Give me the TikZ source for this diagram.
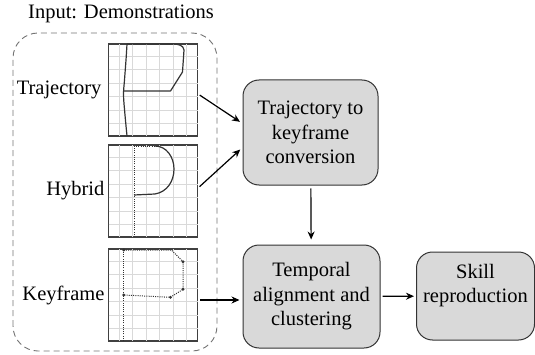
\documentclass[tikz,border=0pt]{standalone}
\usepackage{fontspec}
\setmainfont{Liberation Serif}
\usetikzlibrary{positioning,arrows.meta}

\tikzset{
  stage/.style={draw=black!80, fill=black!15, line width=1pt, rounded corners=16pt, align=center, inner sep=2pt},
  demo/.style={draw=black!75, line width=1.1pt, minimum width=89pt, minimum height=92pt, inner sep=0pt},
  arr/.style={-{Stealth[length=8pt,width=7pt]}, line width=1.2pt},
  gridline/.style={black!15, line width=0.6pt},
  pen/.style={black!80, line width=1.2pt, line join=round},
  dots/.style={black!80, line width=1pt, dash pattern=on 1pt off 1.2pt},
}
\newcommand{\plotgrid}{%
  \foreach \g in {-33.75,-20.25,-6.75,6.75,20.25,33.75} {
    \draw [gridline] (\g,-46) -- (\g,46);
    \draw [gridline] (-44.5,\g) -- (44.5,\g);
  }}

\begin{document}
\begin{tikzpicture}[x=1pt, y=1pt, font=\fontsize{20.5}{24.5}\selectfont]
  \useasboundingbox (0,0) rectangle (535,354);

  % demonstrations
  \node (input) at (121,340) {Input: Demonstrations};
  \draw [black!55, line width=0.9pt, dash pattern=on 6pt off 4pt, rounded corners=25pt]
    (13,3) rectangle (217,321);

  \node (trajplot) [demo] at (153,264) {};
  \node (hybplot) [demo] at (153,163) {};
  \node (keyplot) [demo] at (153,59) {};

  \node (trajlbl) [left=3pt of trajplot] {Trajectory};
  \node (hyblbl) [left=0pt of hybplot] {Hybrid};
  \node (keylbl) [left=0pt of keyplot] {Keyframe};

  \begin{scope}[shift={(trajplot.center)}]
    \plotgrid
    \draw [pen] plot [smooth] coordinates {(-26,-46) (-28,-25) (-29.5,-5) (-28.5,10) (-27,30) (-26,46)};
    \draw [pen] (-26,46) -- (20,46) to[out=0,in=95] (31,40) -- (29.5,18) -- (17.5,-1) -- (-29.5,-1);
  \end{scope}

  \begin{scope}[shift={(hybplot.center)}]
    \plotgrid
    \draw [dots] (-19,-46) -- (-19,46);
    \draw [dots] (-19,45) -- (2,45);
    \draw [pen] (2,45) to[out=0,in=90] (21,22) to[out=-90,in=10] (2,-3) -- (-19,-4);
  \end{scope}

  \begin{scope}[shift={(keyplot.center)}]
    \plotgrid
    \draw [dots] (-29.3,-46) -- (-29.3,46);
    \draw [dots] (-29.3,45) -- (18.4,45) -- (30,33.3) -- (30,5.7) -- (17.4,-2.3) -- (-29.3,0);
    \foreach \p in {(-29.3,45),(30,33.3),(30,5.7),(17.4,-2.3),(-29.3,0)}
      \fill [black!80] \p circle (1.6pt);
  \end{scope}

  % pipeline
  \node (conv) [stage, minimum width=135pt, minimum height=105pt] at (310.5,221.5) {Trajectory to\\keyframe\\conversion};
  \node (align) [stage, minimum width=137pt, minimum height=103pt] at (311.5,57.5) {Temporal\\alignment and\\clustering};
  \node (skill) [stage, minimum width=118pt, minimum height=88pt, text depth=25pt] at (475.5,58) {Skill\\reproduction};

  \draw [arr, shorten <=2pt, shorten >=3pt] ([yshift=-4pt]trajplot.east) -- ([yshift=9pt]conv.west);
  \draw [arr, shorten <=2pt, shorten >=3pt] ([yshift=3pt]hybplot.east) -- ([yshift=-15pt]conv.west);
  \draw [arr, shorten <=2pt, shorten >=3pt] ([yshift=-5pt]keyplot.east) -- ([yshift=-5pt]keyplot.east -| align.west);
  \draw [arr, shorten <=3pt, shorten >=5pt] (conv) -- (align);
  \draw [arr, shorten <=2pt, shorten >=2pt] (align) -- (skill);
\end{tikzpicture}
\end{document}
